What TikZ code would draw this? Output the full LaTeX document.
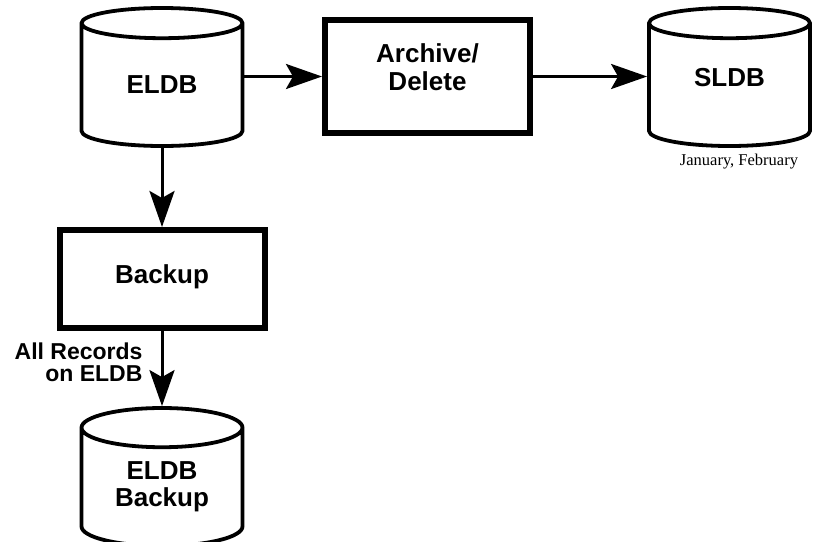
\documentclass[tikz,border=0pt]{standalone}
\usepackage{fontspec}
\setmainfont{Liberation Serif}
\setsansfont{Liberation Sans}
\usetikzlibrary{shapes.geometric,arrows.meta}

\begin{document}
\begin{tikzpicture}[x=1pt, y=-1pt,
      box/.style={rectangle, draw, line width=6pt, minimum width=205pt, align=center, font=\sffamily\bfseries\fontsize{26}{28}\selectfont},
      db/.style={cylinder, shape border rotate=90, anchor=shape center, draw, line width=3.8pt, aspect=0.39, minimum width=161pt, minimum height=138pt, align=center, font=\sffamily\bfseries\fontsize{26}{27}\selectfont},
      arrow/.style={-{Stealth[length=36pt, width=25pt, inset=7pt]}, line width=3pt}
    ]
      \useasboundingbox (0,0) rectangle (813,541);
      \node[db, text height=19pt, text depth=8pt]    (eldb)    at (162,77)    {ELDB};
      \node[box, minimum height=113pt, text height=47pt, text depth=20pt] (archive) at (427.5,76.5) {Archive/\\Delete};
      \node[db, text height=19pt, text depth=22pt]   (sldb)    at (729.5,77)  {SLDB};
      \node[font=\fontsize{16.5}{18}\selectfont] (months) at (739,162) {January, February};
      \node[box, minimum height=98pt, text height=19pt, text depth=11pt] (backup) at (162,279) {Backup};
      \node[db, text height=46pt, text depth=15pt]   (eldbbak) at (162,477)   {ELDB\\Backup};
      \node[anchor=east, align=right, font=\sffamily\bfseries\fontsize{23}{22}\selectfont] (records) at (146,362) {All Records\\on ELDB};

      \draw[arrow] (eldb.east |- archive) -- (archive);
      \draw[arrow] (archive) -- (sldb.west |- archive);
      \draw[arrow] (eldb)    -- (backup);
      \draw[arrow] (backup)  -- (eldbbak);
    \end{tikzpicture}
\end{document}
